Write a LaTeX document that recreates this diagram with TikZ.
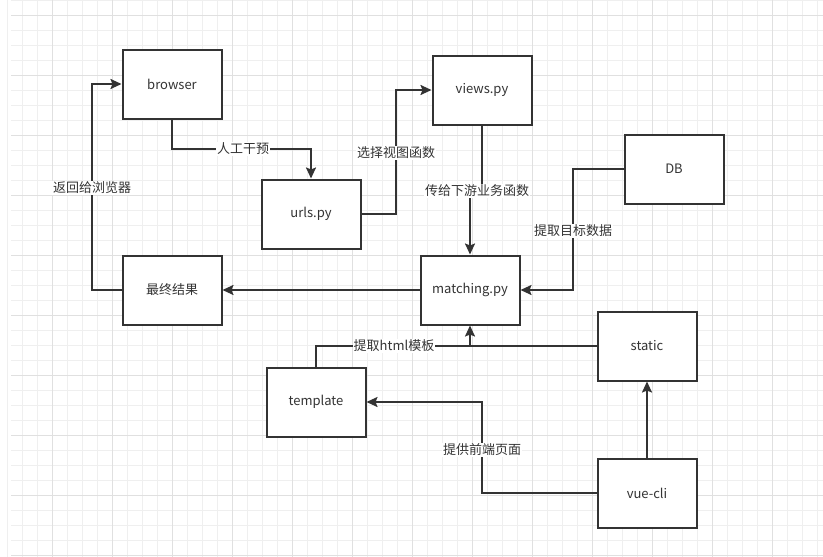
\documentclass[tikz,border=0pt]{standalone}
\usepackage{fontspec}
\setmainfont{Noto Sans CJK SC}
\usetikzlibrary{arrows.meta}
\definecolor{ink}{HTML}{333333}
\definecolor{gridminor}{HTML}{EFEFEF}
\definecolor{gridmajor}{HTML}{E0E0E0}
\begin{document}
\begin{tikzpicture}[x=1pt,y=-1pt,
  box/.style={draw=ink, line width=2pt, minimum width=99pt, minimum height=69pt, inner sep=0pt, fill=white, text=ink, font=\fontsize{13}{15}\selectfont},
  conn/.style={draw=ink, line width=2pt, -{Stealth[length=11pt,width=10pt,inset=2pt]}},
  plain/.style={draw=ink, line width=2pt},
  lbl/.style={fill=white, text=ink, inner sep=1pt, font=\fontsize{13}{15}\selectfont}]
\fill[white] (0,0) rectangle (823,557);
\useasboundingbox (0,0) rectangle (823,557);
% grid
\foreach \x in {7,22,...,817} \draw[gridminor, line width=0.7pt] (\x,0) -- (\x,557);
\foreach \y in {0,15,...,555} \draw[gridminor, line width=0.7pt] (11,\y) -- (823,\y);
\foreach \x in {52,112,...,772} \draw[gridmajor, line width=0.8pt] (\x,0) -- (\x,557);
\foreach \y in {15,75,...,555} \draw[gridmajor, line width=0.8pt] (11,\y) -- (823,\y);
% nodes
\node[box] (browser) at (172,84) {browser};
\node[box] (urls) at (311,214) {urls.py};
\node[box] (views) at (482,90) {views.py};
\node[box] (db) at (674,169) {DB};
\node[box] (match) at (470,290) {matching.py};
\node[box] (result) at (172,290) {最终结果};
\node[box] (static) at (647,346) {static};
\node[box] (tmpl) at (316,402) {template};
\node[box] (vue) at (647,493) {vue-cli};
% connectors
\coordinate (c1) at (172,149);
\coordinate (c2) at (396,214);
\coordinate (c3a) at (482,191);
\coordinate (c3b) at (470,191);
\coordinate (c4) at (573,169);
\coordinate (c6) at (92,290);
\coordinate (c7) at (470,346);
\coordinate (c8) at (482,493);
\draw[conn] (browser.south) -- (c1) -| (urls.north);
\draw[conn] (urls.east) -- (c2) |- (views.west);
\draw[conn] (views.south) -- (c3a) -- (c3b) -- (match.north);
\draw[conn] (db.west) -- (c4) |- (match.east);
\draw[conn] (match.west) -- (result.east);
\draw[conn] (result.west) -- (c6) |- (browser.west);
\draw[conn] (static.west) -| (match.south);
\draw[plain] (tmpl.north) |- (c7);
\draw[conn] (vue.west) -- (c8) |- (tmpl.east);
\draw[conn] (vue.north) -- (static.south);
% labels
\node[lbl] (l1) at (243,149) {人工干预};
\node[lbl] (l2) at (396,153) {选择视图函数};
\node[lbl] (l3) at (477,191) {传给下游业务函数};
\node[lbl] (l4) at (573,231) {提取目标数据};
\node[lbl] (l5) at (92,188) {返回给浏览器};
\node[lbl] (l6) at (394,346) {提取html模板};
\node[lbl] (l7) at (482,450) {提供前端页面};
\end{tikzpicture}
\end{document}
